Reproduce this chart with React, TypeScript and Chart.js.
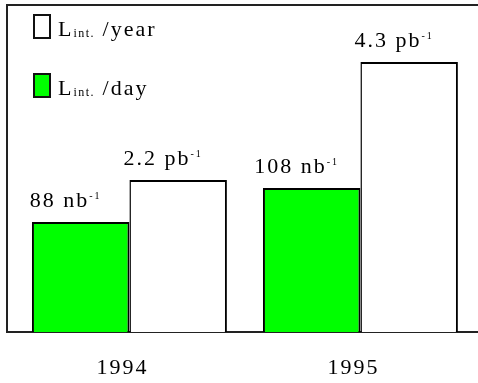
import { useEffect, useRef } from "react";
import { Chart, registerables } from "chart.js";

Chart.register(...registerables);

// ---- data ----
const years = ["1994", "1995"];
const yearPositions = [0, 1];
// bar heights as drawn (relative units, both series share one drawing scale)
const dayBarHeights = [110, 144];
const yearBarHeights = [152, 270];
const dayLabels = ["88 nb", "108 nb"];
const yearLabels = ["2.2 pb", "4.3 pb"];
const labelSuperscript = "-1";
const legendSymbol = "L";
const legendSubscript = "int.";
const legendSuffixes = [" /year", " /day"];
const dayColor = "#00ff00";
const yearColor = "#ffffff";

const FONT = '"Liberation Serif", "Times New Roman", serif';

function drawSup(ctx: CanvasRenderingContext2D, main: string, sup: string, cx: number, baseline: number) {
  ctx.font = `22px ${FONT}`;
  const w1 = ctx.measureText(main).width;
  ctx.font = `10px ${FONT}`;
  const w2 = ctx.measureText(sup).width;
  const x0 = cx - (w1 + w2) / 2;
  ctx.textAlign = "left";
  ctx.textBaseline = "alphabetic";
  ctx.font = `22px ${FONT}`;
  ctx.fillText(main, x0, baseline);
  ctx.font = `10px ${FONT}`;
  ctx.fillText(sup, x0 + w1, baseline - 8);
}

const overlay = {
  id: "overlay",
  beforeDraw(chart: any) {
    (chart.ctx as any).letterSpacing = "2px";
  },
  afterDraw(chart: any) {
    const { ctx, chartArea } = chart;
    ctx.save();
    (ctx as any).letterSpacing = "2px";
    ctx.strokeStyle = "#222";
    ctx.lineWidth = 2;
    ctx.beginPath();
    ctx.moveTo(chartArea.left, chartArea.bottom);
    ctx.lineTo(chartArea.left, chartArea.top);
    ctx.lineTo(chart.width, chartArea.top);
    ctx.stroke();

    ctx.fillStyle = "#000";
    const labelSets = [dayLabels, yearLabels];
    labelSets.forEach((labels, di) => {
      const meta = chart.getDatasetMeta(di);
      meta.data.forEach((el: any, i: number) => {
        drawSup(ctx, labels[i], labelSuperscript, el.x - 15, el.y - 15);
      });
    });

    // legend
    const colors = [yearColor, dayColor];
    legendSuffixes.forEach((suffix, i) => {
      const bx = chartArea.left + 26;
      const by = chartArea.top + 9 + i * 59;
      ctx.fillStyle = colors[i];
      ctx.fillRect(bx, by, 18, 25);
      ctx.strokeStyle = "#111";
      ctx.lineWidth = 2;
      ctx.strokeRect(bx + 1, by + 1, 16, 23);
      ctx.fillStyle = "#000";
      ctx.textAlign = "left";
      ctx.textBaseline = "alphabetic";
      const base = by + 21.5;
      let x = bx + 25;
      ctx.font = `22px ${FONT}`;
      ctx.fillText(legendSymbol, x, base);
      x += ctx.measureText(legendSymbol).width;
      ctx.font = `12px ${FONT}`;
      (ctx as any).letterSpacing = "1.5px";
      ctx.fillText(legendSubscript, x, base + 1.5);
      x += ctx.measureText(legendSubscript).width;
      (ctx as any).letterSpacing = "2px";
      ctx.font = `22px ${FONT}`;
      ctx.fillText(suffix, x, base);
    });
    ctx.restore();
  },
};

export default function App() {
  const ref = useRef<HTMLCanvasElement | null>(null);
  useEffect(() => {
    if (!ref.current) return;
    const chart = new Chart(ref.current, {
      type: "bar",
      data: {
        datasets: [
          {
            label: "L int. /day",
            data: yearPositions.map((x, i) => ({ x, y: dayBarHeights[i] })),
            backgroundColor: dayColor,
            borderColor: "#000",
            borderWidth: { top: 2, left: 2, right: 2, bottom: 0 },
          },
          {
            label: "L int. /year",
            data: yearPositions.map((x, i) => ({ x, y: yearBarHeights[i] })),
            backgroundColor: yearColor,
            borderColor: "#000",
            borderWidth: { top: 2, left: 1.5, right: 2, bottom: 0 },
          },
        ] as any,
      },
      options: {
        responsive: false,
        animation: false,
        layout: { padding: { left: 7, top: 5, right: 0, bottom: 0 } },
        plugins: { legend: { display: false }, tooltip: { enabled: false } },
        datasets: { bar: { categoryPercentage: 0.844, barPercentage: 1, inflateAmount: 0 } } as any,
        scales: {
          x: {
            type: "linear",
            min: -0.53,
            max: 1.509,
            offset: false,
            grid: { display: false, drawTicks: false },
            border: { display: true, color: "#222", width: 2 },
            afterBuildTicks: (s: any) => {
              s.ticks = yearPositions.map((v) => ({ value: v }));
            },
            afterFit: (s: any) => {
              s.height = 51;
            },
            ticks: {
              callback: (v: any) => years[yearPositions.indexOf(Number(v))] ?? "",
              font: { family: FONT, size: 22 },
              color: "#000",
              padding: 23,
              labelOffset: -7,
              autoSkip: false,
              maxRotation: 0,
            },
          },
          y: { display: false, min: 0, max: 327 },
        },
      } as any,
      plugins: [overlay],
    });
    return () => chart.destroy();
  }, []);
  return (
    <div style={{ position: "fixed", left: 0, top: 0, width: 478, height: 383, background: "#fff" }}>
      <canvas ref={ref} width={478} height={383} style={{ width: 478, height: 383 }} />
    </div>
  );
}
